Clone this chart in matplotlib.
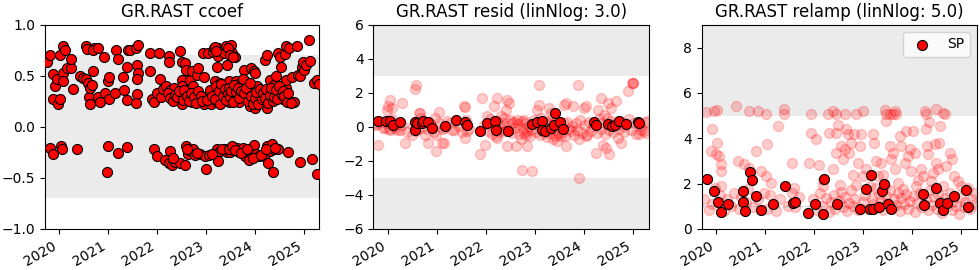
import matplotlib
matplotlib.use("Agg")
import matplotlib.pyplot as plt

# (decimal year, value)
ccoef_pts = [
    (2019.74, 0.64), (2019.81, 0.70), (2019.88, 0.52), (2019.91, 0.40), (2019.88, 0.27),
    (2019.98, 0.22), (2020.01, 0.27), (2019.96, 0.47), (2020.01, 0.70), (2020.07, 0.79),
    (2020.12, 0.75), (2020.07, 0.53), (2020.08, 0.45), (2020.15, 0.58), (2020.23, 0.58),
    (2020.25, 0.67), (2020.29, 0.37), (2020.42, 0.50), (2020.48, 0.48), (2020.54, 0.79),
    (2020.56, 0.76), (2020.54, 0.47), (2020.59, 0.43), (2020.61, 0.29), (2020.63, 0.38),
    (2020.66, 0.41), (2020.62, 0.22), (2020.69, 0.55), (2020.72, 0.77), (2020.69, 0.75),
    (2020.80, 0.77), (2020.80, 0.29), (2020.83, 0.24), (2020.91, 0.68), (2020.93, 0.33),
    (2021.00, 0.45), (2021.02, 0.49), (2021.02, 0.27), (2021.14, 0.33), (2021.17, 0.75),
    (2021.21, 0.67), (2021.30, 0.49), (2021.33, 0.36), (2021.39, 0.59), (2021.41, 0.75),
    (2021.39, 0.26), (2021.44, 0.75), (2021.57, 0.77), (2021.61, 0.80), (2021.59, 0.61),
    (2021.61, 0.53), (2021.59, 0.47), (2021.58, 0.32), (2021.56, 0.23), (2021.86, 0.55),
    (2021.86, 0.72), (2021.90, 0.27), (2021.94, 0.24), (2021.99, 0.33), (2022.03, 0.72),
    (2022.05, 0.47), (2022.07, 0.29), (2022.13, 0.37), (2022.19, 0.40), (2022.24, 0.69),
    (2022.24, 0.64), (2022.27, 0.36), (2022.31, 0.30), (2022.35, 0.38), (2022.39, 0.27),
    (2022.47, 0.74), (2022.50, 0.64), (2022.50, 0.46), (2022.50, 0.40), (2022.50, 0.33),
    (2022.47, 0.27), (2022.50, 0.22), (2022.57, 0.63), (2022.57, 0.29), (2022.60, 0.56),
    (2022.64, 0.36), (2022.67, 0.46), (2022.71, 0.55), (2022.71, 0.24), (2022.74, 0.40),
    (2022.81, 0.51), (2022.84, 0.58), (2022.87, 0.27), (2022.94, 0.72), (2022.96, 0.49),
    (2022.96, 0.22), (2023.05, 0.72), (2023.07, 0.32), (2023.10, 0.22), (2023.15, 0.73),
    (2023.16, 0.77), (2023.18, 0.45), (2023.22, 0.24), (2023.23, 0.59), (2023.25, 0.69),
    (2023.25, 0.77), (2023.29, 0.43), (2023.32, 0.33), (2023.36, 0.27), (2023.37, 0.72),
    (2023.41, 0.79), (2023.43, 0.61), (2023.46, 0.45), (2023.48, 0.24), (2023.51, 0.80),
    (2023.53, 0.72), (2023.56, 0.37), (2023.60, 0.68), (2023.62, 0.45), (2023.63, 0.30),
    (2023.67, 0.24), (2023.70, 0.43), (2023.76, 0.30), (2023.77, 0.56), (2023.80, 0.45),
    (2023.84, 0.39), (2023.87, 0.27), (2023.89, 0.20), (2023.91, 0.58), (2023.98, 0.55),
    (2024.01, 0.53), (2024.01, 0.19), (2024.04, 0.40), (2024.08, 0.27), (2024.11, 0.30),
    (2024.18, 0.24), (2024.21, 0.66), (2024.25, 0.70), (2024.25, 0.19), (2024.28, 0.35),
    (2024.31, 0.46), (2024.35, 0.27), (2024.38, 0.41), (2024.41, 0.32), (2024.44, 0.50),
    (2024.47, 0.72), (2024.51, 0.68), (2024.52, 0.33), (2024.54, 0.59), (2024.58, 0.27),
    (2024.61, 0.71), (2024.63, 0.79), (2024.63, 0.38), (2024.63, 0.46), (2024.70, 0.77),
    (2024.72, 0.24), (2024.75, 0.49), (2024.79, 0.24), (2024.86, 0.79), (2024.89, 0.51),
    (2024.93, 0.50), (2024.96, 0.59), (2024.98, 0.64), (2025.01, 0.56), (2025.05, 0.61),
    (2025.10, 0.85), (2025.12, 0.65), (2025.20, 0.43), (2025.27, 0.46), (2025.30, 0.42),
    (2022.22, 0.33), (2022.26, 0.28), (2022.33, 0.25), (2022.36, 0.31), (2022.41, 0.29),
    (2022.44, 0.35), (2022.52, 0.26), (2022.55, 0.36), (2022.62, 0.30), (2022.66, 0.25),
    (2022.69, 0.33), (2022.76, 0.29), (2022.79, 0.23), (2022.83, 0.35), (2022.89, 0.30),
    (2022.92, 0.25), (2023.02, 0.26), (2023.08, 0.36), (2023.12, 0.30), (2023.19, 0.27),
    (2023.21, 0.40), (2023.26, 0.35), (2023.28, 0.22), (2023.31, 0.42), (2023.34, 0.30),
    (2023.38, 0.37), (2023.40, 0.26), (2023.44, 0.33), (2023.47, 0.38), (2023.50, 0.29),
    (2023.52, 0.35), (2023.55, 0.24), (2023.58, 0.41), (2023.61, 0.34), (2023.65, 0.38),
    (2023.68, 0.28), (2023.72, 0.35), (2023.75, 0.47), (2023.78, 0.33), (2023.82, 0.38),
    (2023.85, 0.25), (2023.89, 0.43), (2023.93, 0.30), (2023.96, 0.22), (2024.00, 0.28),
    (2024.03, 0.34), (2024.06, 0.22), (2024.10, 0.37), (2024.14, 0.27), (2024.16, 0.33),
    (2024.20, 0.28), (2024.23, 0.37), (2024.27, 0.23), (2024.30, 0.31), (2024.33, 0.38),
    (2024.37, 0.25), (2024.40, 0.29), (2024.43, 0.36), (2024.46, 0.27), (2024.50, 0.40),
    (2024.55, 0.31), (2024.57, 0.35), (2024.60, 0.30), (2024.66, 0.24), (2024.68, 0.33),
    (2024.74, 0.23), (2023.18, 0.78), (2023.20, 0.74), (2023.45, 0.77), (2023.50, 0.70),
    (2023.55, 0.68),
    # lower band
    (2019.81, -0.21), (2019.88, -0.27), (2020.03, -0.19), (2020.05, -0.22), (2020.37, -0.22),
    (2020.97, -0.44), (2021.00, -0.19), (2021.21, -0.26), (2021.38, -0.20), (2021.93, -0.22),
    (2022.00, -0.29), (2022.17, -0.32), (2022.24, -0.35), (2022.27, -0.24), (2022.31, -0.37),
    (2022.37, -0.34), (2022.47, -0.35), (2022.57, -0.37), (2022.60, -0.19), (2022.64, -0.27),
    (2022.69, -0.24), (2022.74, -0.22), (2022.78, -0.28), (2022.87, -0.27), (2022.97, -0.29),
    (2022.99, -0.41), (2023.07, -0.28), (2023.22, -0.22), (2023.25, -0.33), (2023.29, -0.24),
    (2023.39, -0.22), (2023.43, -0.25), (2023.50, -0.25), (2023.56, -0.23), (2023.63, -0.21),
    (2023.67, -0.25), (2023.76, -0.21), (2023.80, -0.29), (2023.87, -0.32), (2023.94, -0.27),
    (2023.99, -0.18), (2024.03, -0.27), (2024.08, -0.29), (2024.18, -0.29), (2024.25, -0.19),
    (2024.26, -0.35), (2024.31, -0.24), (2024.35, -0.17), (2024.38, -0.22), (2024.36, -0.44),
    (2024.48, -0.22), (2024.67, -0.25), (2024.92, -0.34), (2025.17, -0.31), (2025.27, -0.46),
    (2022.33, -0.30), (2022.62, -0.22), (2022.82, -0.26), (2023.12, -0.27), (2023.33, -0.22),
    (2023.46, -0.22), (2023.53, -0.19), (2023.60, -0.23), (2023.72, -0.26), (2023.84, -0.22),
    (2023.96, -0.30), (2024.12, -0.28), (2024.22, -0.22), (2024.42, -0.21),
]

resid_all = [
    (2019.81, -1.04), (2019.77, 0.14), (2019.98, 1.02), (2020.01, 1.21), (2020.05, 1.60),
    (2020.08, 1.12), (2019.95, -0.06), (2020.05, -0.16), (2020.15, -0.06), (2020.25, -0.16),
    (2020.29, 1.41), (2020.35, -0.94), (2020.49, -0.45), (2020.56, 2.23), (2020.58, 2.48),
    (2020.59, 0.23), (2020.63, 0.82), (2020.66, 0.82), (2020.67, 0.53), (2020.76, -0.45),
    (2020.83, -0.94), (2020.87, 0.23), (2020.97, 0.53), (2020.99, -1.43), (2021.04, 0.86),
    (2020.99, -0.45), (2021.10, -0.94), (2021.14, -0.94), (2021.14, -0.06), (2021.28, 0.23),
    (2021.31, -0.16), (2021.55, 1.21), (2021.58, 1.17), (2021.58, -0.65), (2021.62, -0.25),
    (2021.92, 1.70), (2021.89, -1.62), (2021.99, -1.04), (2022.03, 0.63), (2022.09, 0.14),
    (2022.16, 1.21), (2022.23, 1.70), (2022.20, -0.55), (2022.23, -0.65), (2022.30, 0.63),
    (2022.37, 0.53), (2022.40, -0.25), (2022.44, 1.60), (2022.47, 1.41), (2022.42, 1.02),
    (2022.44, -1.14), (2022.54, 0.23), (2022.61, -1.14), (2022.64, 0.43), (2022.71, -0.74),
    (2022.74, -2.54), (2022.78, -0.35), (2022.78, 0.43), (2022.84, -0.25), (2022.84, -1.14),
    (2022.91, -0.55), (2022.95, -2.60), (2023.05, 1.02), (2023.08, 2.48), (2023.08, 1.31),
    (2023.19, -0.35), (2023.29, 1.12), (2023.32, 0.82), (2023.39, 0.23), (2023.42, -0.55),
    (2023.46, -0.84), (2023.53, -0.55), (2023.59, 1.31), (2023.63, 1.41), (2023.63, -1.14),
    (2023.73, -0.25), (2023.77, 1.21), (2023.87, 2.48), (2023.90, -2.99), (2023.90, -0.74),
    (2024.00, 1.12), (2024.04, 1.21), (2024.04, -0.55), (2024.24, -1.53), (2024.28, 1.02),
    (2024.35, 1.70), (2024.41, 0.72), (2024.38, -1.04), (2024.45, -1.23), (2024.48, 1.41),
    (2024.52, -1.57), (2024.55, 1.12), (2024.65, 1.51), (2024.69, -0.65), (2024.75, -0.94),
    (2024.89, 2.09), (2024.82, 0.04), (2024.99, 2.58), (2024.99, 2.60), (2024.98, 2.56),
    (2025.16, -0.16), (2025.27, -0.35), (2025.30, 0.33), (2025.13, -0.40),
    (2019.76, 0.15), (2019.85, 0.35), (2019.90, -0.05), (2019.96, 0.25), (2020.02, -0.10),
    (2020.09, 0.45), (2020.14, 0.05), (2020.20, -0.20), (2020.30, 0.10), (2020.40, -0.30),
    (2020.52, 0.05), (2020.57, -0.25), (2020.62, 0.15), (2020.68, -0.05), (2020.74, 0.30),
    (2020.80, -0.15), (2020.88, 0.10), (2020.95, -0.30), (2021.05, 0.20), (2021.12, -0.10),
    (2021.20, 0.35), (2021.35, -0.20), (2021.45, 0.05), (2021.52, -0.30), (2021.60, 0.40),
    (2021.66, -0.10), (2021.96, 0.10), (2022.05, -0.25), (2022.08, 0.45), (2022.12, -0.40),
    (2022.15, 0.20), (2022.18, -0.05), (2022.22, 0.35), (2022.26, -0.30), (2022.29, 0.10),
    (2022.33, -0.15), (2022.36, 0.25), (2022.43, -0.20), (2022.50, 0.40), (2022.53, -0.35),
    (2022.57, 0.30), (2022.60, -0.05), (2022.66, 0.15), (2022.68, -0.40), (2022.73, 0.35),
    (2022.76, -0.15), (2022.80, 0.25), (2022.82, -0.45), (2022.88, 0.05), (2022.92, -0.20),
    (2022.98, 0.40), (2023.02, -0.30), (2023.06, 0.10), (2023.10, -0.45), (2023.13, 0.50),
    (2023.17, -0.20), (2023.22, 0.30), (2023.25, -0.60), (2023.28, 0.15), (2023.31, -0.35),
    (2023.35, 0.45), (2023.37, -0.70), (2023.40, -0.20), (2023.44, 0.35), (2023.47, -0.40),
    (2023.51, 0.05), (2023.55, -0.30), (2023.59, 0.20), (2023.62, -0.55), (2023.66, 0.30),
    (2023.70, -0.10), (2023.75, 0.05), (2023.79, -0.45), (2023.83, 0.25), (2023.86, -0.20),
    (2023.92, 0.40), (2023.96, -0.35), (2024.02, 0.10), (2024.06, -0.50), (2024.10, 0.30),
    (2024.14, -0.25), (2024.18, 0.05), (2024.27, -0.35), (2024.31, 0.45), (2024.34, -0.15),
    (2024.39, 0.25), (2024.43, -0.40), (2024.47, 0.55), (2024.51, -0.20), (2024.55, 0.35),
    (2024.60, -0.30), (2024.66, 0.20), (2024.72, -0.10), (2024.78, 0.30), (2024.82, -0.30),
    (2024.92, 0.45), (2024.96, -0.20), (2025.02, 0.25), (2025.06, -0.40), (2025.15, 0.10),
    (2025.22, -0.25), (2025.25, 0.30),
]

relamp_all = [
    (2019.80, 5.16), (2019.97, 5.20), (2020.03, 5.24), (2020.41, 5.42), (2020.67, 5.20),
    (2020.85, 5.20), (2021.02, 5.06), (2021.39, 5.28), (2021.39, 5.06), (2021.94, 5.06),
    (2022.28, 5.06), (2022.38, 5.20), (2022.45, 5.06), (2022.62, 5.06), (2022.86, 5.06),
    (2023.00, 5.20), (2023.46, 5.06), (2023.45, 5.23), (2023.54, 5.06), (2023.60, 5.06),
    (2023.64, 5.20), (2023.67, 5.06), (2024.25, 5.20), (2024.28, 5.06), (2024.49, 5.28),
    (2024.63, 5.13), (2024.66, 5.06),
    (2019.93, 4.40), (2020.03, 3.80), (2020.00, 3.29), (2020.07, 3.22), (2020.10, 2.85),
    (2020.10, 2.55), (2019.90, 3.44), (2020.10, 1.89), (2020.44, 2.99), (2020.58, 2.85),
    (2020.68, 2.70), (2020.82, 3.44), (2020.92, 2.55), (2021.02, 2.33), (2021.05, 3.73),
    (2021.12, 2.03), (2021.26, 4.54), (2021.56, 2.92), (2021.60, 1.81), (2021.90, 2.92),
    (2021.94, 4.25), (2022.03, 3.98), (2022.10, 2.80), (2022.18, 2.18), (2022.18, 1.89),
    (2022.31, 4.25), (2022.38, 2.63), (2022.45, 3.36), (2022.45, 4.25), (2022.48, 4.60),
    (2022.52, 1.96), (2022.55, 3.66), (2022.59, 3.07), (2022.62, 3.51), (2022.65, 4.40),
    (2022.69, 4.17), (2022.72, 3.36), (2022.76, 3.80), (2022.79, 2.40), (2022.82, 4.17),
    (2022.86, 1.96), (2022.89, 2.92), (2022.94, 3.66), (2022.96, 4.17), (2023.00, 2.33),
    (2023.05, 2.63), (2023.13, 1.89), (2023.20, 4.17), (2023.23, 3.80), (2023.27, 2.99),
    (2023.30, 2.33), (2023.37, 2.92), (2023.40, 2.40), (2023.44, 1.89), (2023.47, 4.76),
    (2023.54, 3.66), (2023.57, 3.07), (2023.60, 3.36), (2023.64, 2.63), (2023.71, 2.03),
    (2023.74, 4.10), (2023.78, 3.66), (2023.82, 1.74), (2023.85, 2.92), (2023.88, 4.32),
    (2023.91, 3.22), (2023.95, 3.51), (2023.98, 2.55), (2024.01, 4.32), (2024.05, 3.36),
    (2024.08, 1.89), (2024.12, 2.18), (2024.18, 2.63), (2024.22, 2.33), (2024.27, 4.40),
    (2024.29, 3.66), (2024.32, 3.29), (2024.35, 4.72), (2024.39, 2.11), (2024.42, 2.48),
    (2024.46, 3.73), (2024.49, 2.92), (2024.52, 2.63), (2024.54, 3.80), (2024.56, 4.54),
    (2024.63, 1.89), (2024.69, 2.77), (2024.76, 3.36), (2024.80, 3.07), (2024.86, 2.33),
    (2024.93, 2.11), (2025.00, 1.89), (2025.14, 1.81), (2025.27, 1.59),
    (2019.76, 1.30), (2019.85, 0.85), (2019.92, 1.10), (2019.98, 1.80), (2020.08, 1.50),
    (2020.16, 0.80), (2020.22, 1.30), (2020.30, 1.00), (2020.36, 1.60), (2020.48, 0.90),
    (2020.52, 1.40), (2020.62, 1.20), (2020.66, 1.75), (2020.76, 0.95), (2020.86, 1.30),
    (2020.97, 1.60), (2021.05, 0.90), (2021.10, 1.50), (2021.22, 0.80), (2021.30, 1.30),
    (2021.47, 1.00), (2021.55, 1.60), (2021.62, 0.95), (2021.70, 1.40), (2021.97, 1.30),
    (2022.06, 0.85), (2022.12, 1.60), (2022.16, 1.00), (2022.25, 1.35), (2022.30, 0.75),
    (2022.34, 1.20), (2022.40, 1.50), (2022.43, 0.90), (2022.50, 1.25), (2022.55, 1.65),
    (2022.58, 0.95), (2022.63, 1.40), (2022.68, 0.80), (2022.71, 1.15), (2022.75, 1.70),
    (2022.80, 1.00), (2022.84, 1.30), (2022.90, 0.85), (2023.00, 1.20), (2023.03, 1.50),
    (2023.09, 0.90), (2023.18, 1.35), (2023.21, 1.10), (2023.26, 1.80), (2023.30, 1.00),
    (2023.33, 1.55), (2023.37, 1.25), (2023.41, 0.85), (2023.46, 1.45), (2023.49, 1.15),
    (2023.54, 1.70), (2023.60, 0.95), (2023.63, 1.30), (2023.67, 1.05), (2023.70, 1.60),
    (2023.75, 0.80), (2023.78, 1.35), (2023.84, 1.10), (2023.87, 1.55), (2023.92, 0.90),
    (2023.96, 1.25), (2024.02, 1.45), (2024.06, 0.75), (2024.10, 1.15), (2024.15, 1.60),
    (2024.19, 0.95), (2024.28, 1.30), (2024.32, 0.85), (2024.36, 1.70), (2024.40, 1.05),
    (2024.44, 1.40), (2024.50, 0.90), (2024.53, 1.55), (2024.58, 1.20), (2024.61, 0.70),
    (2024.66, 1.35), (2024.70, 1.00), (2024.76, 1.60), (2024.80, 0.85), (2024.84, 1.25),
    (2024.90, 1.00), (2024.96, 0.65), (2025.00, 1.40), (2025.05, 0.95), (2025.08, 1.20),
    (2025.18, 0.90), (2025.22, 1.30), (2025.28, 1.10),
]

# SP events: (decimal year, resid, relamp)
sp_pts = [
    (2019.81, 0.37, 2.21), (2019.96, 0.37, 1.66), (2020.05, 0.37, 1.19), (2020.11, 0.13, 0.74),
    (2020.25, 0.29, 1.08), (2020.55, 0.29, 1.66), (2020.56, -0.16, 1.19), (2020.60, 0.23, 0.78),
    (2020.70, 0.20, 2.50), (2020.73, 0.37, 2.18), (2020.82, 0.30, 1.44), (2020.91, -0.06, 0.85),
    (2021.17, 0.08, 1.10), (2021.40, 0.43, 1.88), (2021.58, 0.27, 1.15), (2021.62, 0.13, 1.19),
    (2021.88, -0.26, 0.71), (2022.02, 0.23, 1.10), (2022.19, 0.33, 0.68), (2022.21, -0.16, 2.21),
    (2022.46, -0.22, 1.08), (2022.94, 0.18, 0.90), (2023.05, 0.27, 1.74), (2023.15, 0.33, 2.40),
    (2023.14, -0.16, 0.90), (2023.21, -0.26, 0.90), (2023.33, -0.06, 0.97), (2023.39, 0.13, 1.66),
    (2023.42, 0.82, 2.00), (2023.51, 0.27, 1.10), (2023.57, -0.12, 0.90), (2024.21, 0.27, 1.52),
    (2024.24, 0.13, 1.05), (2024.48, 0.19, 1.81), (2024.57, 0.04, 1.15), (2024.63, 0.13, 0.85),
    (2024.71, 0.37, 1.15), (2024.85, 0.19, 1.47), (2025.10, 0.27, 1.71), (2025.13, 0.22, 0.97),
]

years = [2020, 2021, 2022, 2023, 2024, 2025]
xlim = (2019.71, 2025.32)

fig = plt.figure(figsize=(9.8, 2.7), dpi=100)
ax1 = fig.add_axes([0.046, 0.152, 0.28, 0.756])
ax2 = fig.add_axes([0.381, 0.152, 0.281, 0.756])
ax3 = fig.add_axes([0.716, 0.152, 0.281, 0.756])

shade = dict(color="lightgrey", alpha=0.45, lw=0, zorder=0)
solid = dict(s=52, c="red", edgecolors="k", linewidths=0.8, zorder=3)
faint = dict(s=52, c="red", alpha=0.2, zorder=2)

# ccoef
ax1.axhspan(-0.7, 0.7, **shade)
ax1.scatter([p[0] for p in ccoef_pts], [p[1] for p in ccoef_pts], **solid)
ax1.set_ylim(-1, 1)
ax1.set_yticks([-1.0, -0.5, 0.0, 0.5, 1.0])
ax1.set_title("GR.RAST ccoef", fontsize=12)

# resid
ax2.axhspan(3, 6, **shade)
ax2.axhspan(-6, -3, **shade)
ax2.axhline(0, color="lightgrey", ls="--", lw=1, zorder=1)
ax2.scatter([p[0] for p in resid_all], [p[1] for p in resid_all], **faint)
ax2.scatter([p[0] for p in sp_pts], [p[1] for p in sp_pts], **solid)
ax2.set_ylim(-6, 6)
ax2.set_yticks([-6, -4, -2, 0, 2, 4, 6])
ax2.set_title("GR.RAST resid (linNlog: 3.0)", fontsize=12)

# relamp
ax3.axhspan(5, 9, **shade)
ax3.axhline(1, color="lightgrey", ls="--", lw=1, zorder=1)
ax3.scatter([p[0] for p in relamp_all], [p[1] for p in relamp_all], **faint)
ax3.scatter([p[0] for p in sp_pts], [p[2] for p in sp_pts], label="SP", **solid)
ax3.set_ylim(0, 9)
ax3.set_yticks([0, 2, 4, 6, 8])
ax3.set_title("GR.RAST relamp (linNlog: 5.0)", fontsize=12)
ax3.legend(loc="upper right")

for ax in (ax1, ax2, ax3):
    ax.set_xlim(*xlim)
    ax.set_xticks(years)
    ax.set_xticklabels([str(y) for y in years], rotation=30, ha="right")

fig.savefig("out.png", dpi=100)
